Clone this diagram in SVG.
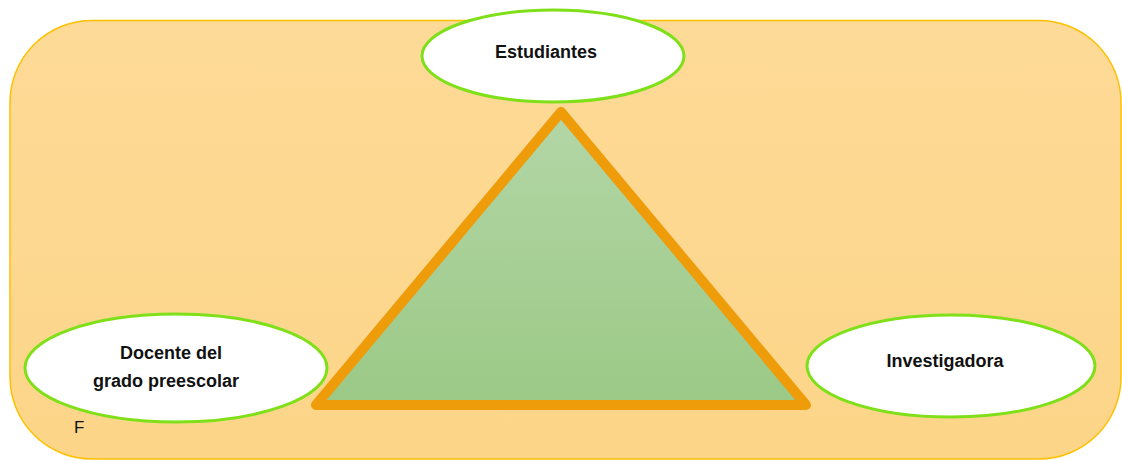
<svg xmlns="http://www.w3.org/2000/svg" width="1122" height="460" viewBox="0 0 1122 460">
<defs>
<linearGradient id="bg" x1="0" y1="0" x2="0" y2="1">
<stop offset="0" stop-color="#FDDA97"/>
<stop offset="1" stop-color="#FCD588"/>
</linearGradient>
<linearGradient id="tri" x1="0" y1="0" x2="0" y2="1">
<stop offset="0" stop-color="#B3D6A6"/>
<stop offset="1" stop-color="#9BC986"/>
</linearGradient>
<style>
.node ellipse{fill:#FFFFFF;stroke:#7FE01A;stroke-width:3}
.lbl{font-family:"Liberation Sans",Arial,sans-serif;font-weight:bold;font-size:18px;fill:#111111;text-anchor:middle}
</style>
</defs>
<rect x="10" y="20.5" width="1111" height="438.5" rx="82" ry="82" fill="url(#bg)" stroke="#FFC000" stroke-width="1.5"/>
<g id="connectors">
<polygon points="561,112 316,405 806,405" fill="url(#tri)" stroke="#EE9C0A" stroke-width="10" stroke-linejoin="round"/>
</g>
<g id="estudiantes" class="node">
<ellipse cx="553" cy="56" rx="131" ry="46"/>
<text class="lbl" x="546" y="58">Estudiantes</text>
</g>
<g id="docente" class="node">
<ellipse cx="176" cy="368" rx="151" ry="54"/>
<text class="lbl" x="171" y="359">Docente del</text>
<text class="lbl" x="166" y="387">grado preescolar</text>
</g>
<g id="investigadora" class="node">
<ellipse cx="951" cy="366" rx="144" ry="51"/>
<text class="lbl" x="945" y="367">Investigadora</text>
</g>
<text x="74" y="433" font-family="Liberation Sans Narrow,Liberation Sans,Arial,sans-serif" font-size="17" fill="#111111">F</text>
</svg>
